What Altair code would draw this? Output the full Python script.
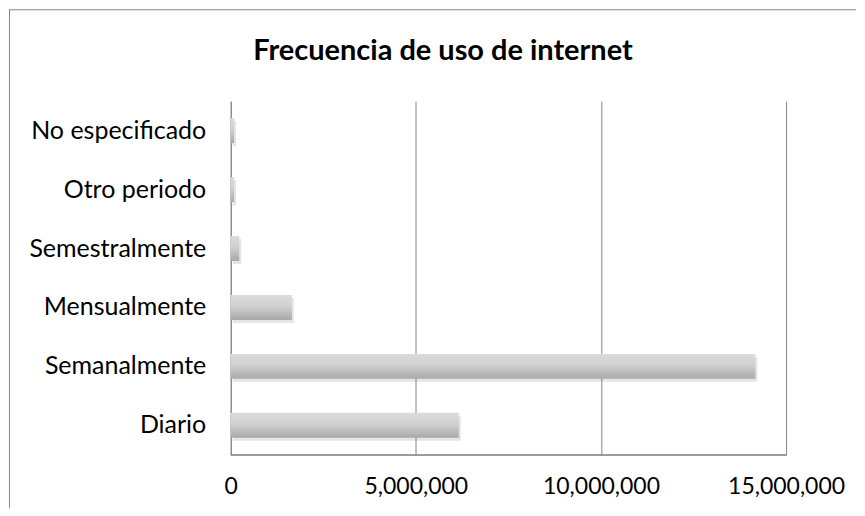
import altair as alt
import pandas as pd

categories = ["No especificado", "Otro periodo", "Semestralmente",
              "Mensualmente", "Semanalmente", "Diario"]
values = [90000, 90000, 230000, 1650000, 14170000, 6160000]
tick_values = [0, 5000000, 10000000, 15000000]
title_text = "Frecuencia de uso de internet"

df = pd.DataFrame({"cat": categories, "val": values})

FONT = "Lato"
GRAY = "#868686"

x_enc = alt.X("val:Q",
              scale=alt.Scale(domain=[0, 15000000], nice=False),
              axis=alt.Axis(values=tick_values, format=",d", title=None,
                            grid=True, gridColor=GRAY, gridWidth=1,
                            domain=True, domainColor=GRAY, domainWidth=1,
                            ticks=False, labelFont=FONT, labelFontSize=23,
                            labelColor="#000", labelPadding=21,
                            labelFlush=False))
y_enc = alt.Y("cat:N", sort=categories,
              scale=alt.Scale(paddingInner=0.58, paddingOuter=0.29),
              axis=alt.Axis(title=None, ticks=False, domain=True,
                            domainColor=GRAY, domainWidth=1, labelFont=FONT,
                            labelFontSize=25, labelColor="#000",
                            labelPadding=25, grid=False))

base = alt.Chart(df)

shadow = base.mark_bar(color="#000000", opacity=0.10, xOffset=2, yOffset=3,
                       size=25).encode(x=x_enc, y=y_enc)

bars = base.mark_bar(
    size=25,
    color=alt.Gradient(
        gradient="linear",
        stops=[alt.GradientStop(color="#dcdcdc", offset=0),
               alt.GradientStop(color="#d0d0d0", offset=0.45),
               alt.GradientStop(color="#a9a9a9", offset=1)],
        x1=0, x2=0, y1=0, y2=1),
).encode(x=x_enc, y=y_enc)

frame_df = pd.DataFrame({"k": [0]})
frame_left = alt.Chart(frame_df).mark_rule(color=GRAY, strokeWidth=1).encode(
    x=alt.value(-221.5), y=alt.value(-92), y2=alt.value(407))
frame_top = alt.Chart(frame_df).mark_rule(color=GRAY, strokeWidth=1).encode(
    x=alt.value(-222), x2=alt.value(626), y=alt.value(-91.5))
bottom_line = alt.Chart(frame_df).mark_rule(color=GRAY, strokeWidth=1).encode(
    x=alt.value(0), x2=alt.value(556), y=alt.value(354))

title = alt.Chart(pd.DataFrame({"t": [title_text]})).mark_text(
    font=FONT, fontSize=29, fontWeight="bold", color="#000",
    align="center", baseline="alphabetic",
).encode(text="t:N", x=alt.value(212.5), y=alt.value(-41))

chart = alt.layer(shadow, bars, bottom_line, frame_left, frame_top,
                  title).properties(
    width=556, height=354,
    padding={"left": 0, "top": 0, "right": 0, "bottom": 0},
).configure_view(stroke=None)

chart.save("out.html", embed_options={"renderer": "svg", "actions": False})
